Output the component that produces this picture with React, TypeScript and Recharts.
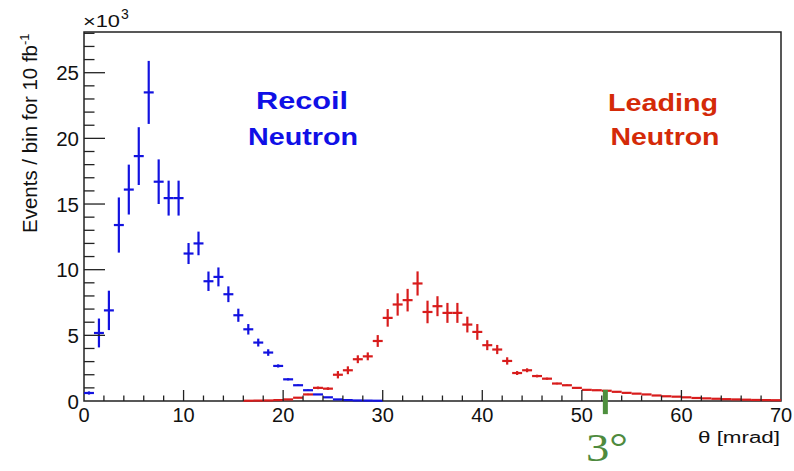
import React from 'react';
import { ComposedChart, Scatter, ErrorBar, XAxis, YAxis, ReferenceArea, ReferenceLine } from 'recharts';

// ---- data (values in units of 10^3 events per 1 mrad bin) ----
const BIN_HALF_WIDTH = 0.5;

const recoilTheta = [0.5, 1.5, 2.5, 3.5, 4.5, 5.5, 6.5, 7.5, 8.5, 9.5, 10.5, 11.5, 12.5, 13.5, 14.5, 15.5, 16.5, 17.5, 18.5, 19.5, 20.5, 21.5, 22.5, 23.5, 24.5, 25.5, 26.5, 27.5, 28.5, 29.5];
const recoilEvents = [0.61, 5.18, 6.9, 13.4, 16.1, 18.65, 23.5, 16.7, 15.45, 15.45, 11.23, 12.0, 9.12, 9.45, 8.13, 6.53, 5.46, 4.45, 3.69, 2.67, 1.65, 1.2, 0.82, 0.5, 0.28, 0.12, 0.07, 0.04, 0.03, 0.02];
const recoilError = [0.12, 1.1, 1.5, 2.1, 1.9, 2.2, 2.4, 1.7, 1.33, 1.33, 0.8, 0.9, 0.74, 0.72, 0.6, 0.5, 0.4, 0.3, 0.25, 0.12, 0.08, 0.06, 0.05, 0.03, 0.02, 0.01, 0.01, 0.01, 0.01, 0.01];

const leadingTheta = [16.5, 17.5, 18.5, 19.5, 20.5, 21.5, 22.5, 23.5, 24.5, 25.5, 26.5, 27.5, 28.5, 29.5, 30.5, 31.5, 32.5, 33.5, 34.5, 35.5, 36.5, 37.5, 38.5, 39.5, 40.5, 41.5, 42.5, 43.5, 44.5, 45.5, 46.5, 47.5, 48.5, 49.5, 50.5, 51.5, 52.5, 53.5, 54.5, 55.5, 56.5, 57.5, 58.5, 59.5, 60.5, 61.5, 62.5, 63.5, 64.5, 65.5, 66.5, 67.5, 68.5, 69.5];
const leadingEvents = [0.02, 0.03, 0.04, 0.07, 0.12, 0.25, 0.5, 1.0, 0.94, 2.0, 2.34, 3.18, 3.4, 4.57, 6.33, 7.35, 7.68, 8.95, 6.78, 7.22, 6.71, 6.71, 5.82, 5.26, 4.25, 3.92, 3.05, 2.13, 2.34, 1.9, 1.7, 1.33, 1.2, 1.0, 0.85, 0.82, 0.78, 0.7, 0.62, 0.56, 0.5, 0.42, 0.36, 0.33, 0.28, 0.23, 0.2, 0.17, 0.14, 0.12, 0.1, 0.08, 0.07, 0.06];
const leadingError = [0.01, 0.01, 0.01, 0.02, 0.02, 0.03, 0.05, 0.1, 0.1, 0.28, 0.3, 0.3, 0.3, 0.45, 0.67, 0.85, 0.86, 0.92, 0.86, 0.76, 0.76, 0.76, 0.6, 0.6, 0.38, 0.35, 0.28, 0.15, 0.15, 0.1, 0.08, 0.06, 0.05, 0.04, 0.03, 0.03, 0.03, 0.03, 0.02, 0.02, 0.02, 0.02, 0.02, 0.01, 0.01, 0.01, 0.01, 0.01, 0.01, 0.01, 0.01, 0.01, 0.01, 0.01];

const xTicks = [0, 2, 4, 6, 8, 10, 12, 14, 16, 18, 20, 22, 24, 26, 28, 30, 32, 34, 36, 38, 40, 42, 44, 46, 48, 50, 52, 54, 56, 58, 60, 62, 64, 66, 68, 70];
const yTicks = [0, 1, 2, 3, 4, 5, 6, 7, 8, 9, 10, 11, 12, 13, 14, 15, 16, 17, 18, 19, 20, 21, 22, 23, 24, 25, 26, 27, 28];
const X_DOMAIN: [number, number] = [0, 70];
const Y_DOMAIN: [number, number] = [0, 28.1];
const THREE_DEGREES_MRAD = 52.36;

const recoilData = recoilTheta.map((x, i) => ({ x, y: recoilEvents[i], ex: BIN_HALF_WIDTH, ey: recoilError[i] }));
const leadingData = leadingTheta.map((x, i) => ({ x, y: leadingEvents[i], ex: BIN_HALF_WIDTH, ey: leadingError[i] }));

const FONT = '"Liberation Sans", Arial, Helvetica, sans-serif';
const BLUE = '#1212e0';
const RED = '#d81c1c';
const AXIS = '#222';

const XTick = (props: any) => {
  const { x, y, payload } = props;
  const v = payload.value;
  const major = v % 10 === 0;
  const len = major ? 11 : 5.5;
  return (
    <g>
      {v !== 0 && v !== 70 ? <line x1={x} y1={y} x2={x} y2={y - len} stroke={AXIS} strokeWidth={1.3} /> : null}
      {major ? (
        <text x={x} y={y + 21} textAnchor="middle" fontSize={20} fontFamily={FONT} fill="#111">{v}</text>
      ) : null}
    </g>
  );
};

const YTick = (props: any) => {
  const { x, y, payload } = props;
  const v = payload.value;
  const major = v % 5 === 0;
  const len = major ? 21 : 10.5;
  return (
    <g>
      {v !== 0 ? <line x1={x} y1={y} x2={x + len} y2={y} stroke={AXIS} strokeWidth={1.3} /> : null}
      {major ? (
        <text x={x - 5} y={y + 7.5} textAnchor="end" fontSize={20.5} fontFamily={FONT} fill="#111">{v}</text>
      ) : null}
    </g>
  );
};

const Empty = () => <g />;

export default function App() {
  return (
    <div style={{ position: 'absolute', left: 0, top: 0, width: 794, height: 471, background: '#fff' }}>
      <ComposedChart width={794} height={471} margin={{ top: 32, right: 13, bottom: 0, left: 0 }}>
        <XAxis
          type="number"
          dataKey="x"
          domain={X_DOMAIN}
          ticks={xTicks}
          allowDataOverflow
          height={70}
          tickSize={0}
          tickMargin={0}
          axisLine={false}
          tickLine={false}
          tick={<XTick />}
          interval={0}
        />
        <YAxis
          type="number"
          dataKey="y"
          domain={Y_DOMAIN}
          ticks={yTicks}
          allowDataOverflow
          width={84}
          tickSize={0}
          tickMargin={0}
          axisLine={false}
          tickLine={false}
          tick={<YTick />}
          interval={0}
        />
        <Scatter data={leadingData} dataKey="y" shape={<Empty />} isAnimationActive={false}>
          <ErrorBar dataKey="ex" direction="x" width={0} stroke={RED} strokeWidth={2.2} isAnimationActive={false} />
          <ErrorBar dataKey="ey" direction="y" width={0} stroke={RED} strokeWidth={2.2} isAnimationActive={false} />
        </Scatter>
        <Scatter data={recoilData} dataKey="y" shape={<Empty />} isAnimationActive={false}>
          <ErrorBar dataKey="ex" direction="x" width={0} stroke={BLUE} strokeWidth={2.2} isAnimationActive={false} />
          <ErrorBar dataKey="ey" direction="y" width={0} stroke={BLUE} strokeWidth={2.2} isAnimationActive={false} />
        </Scatter>
        <ReferenceArea x1={0} x2={70} y1={0} y2={28.1} fill="none" stroke={AXIS} strokeWidth={1.5} ifOverflow="visible" />
        <ReferenceLine
          segment={[{ x: THREE_DEGREES_MRAD, y: -1.0 }, { x: THREE_DEGREES_MRAD, y: 0.85 }]}
          stroke="#4e8f3e"
          strokeWidth={5}
          ifOverflow="visible"
        />
      </ComposedChart>
      <svg width={794} height={471} style={{ position: 'absolute', left: 0, top: 0, pointerEvents: 'none' }}>
        <text x={83} y={27} fontSize={17} fontFamily={FONT} fill="#111" textLength={37} lengthAdjust="spacingAndGlyphs">×10</text>
        <text x={121} y={19} fontSize={14} fontFamily={FONT} fill="#111">3</text>
        <text transform="translate(37,233) rotate(-90)" fontSize={20.5} fontFamily={FONT} fill="#111">
          Events / bin for 10 fb<tspan dy={-8} fontSize={13}>-1</tspan>
        </text>
        <text x={302} y={109} textAnchor="middle" fontSize={23} fontWeight="bold" fontFamily={FONT} fill="#1010e6" textLength={92} lengthAdjust="spacingAndGlyphs">Recoil</text>
        <text x={303} y={145} textAnchor="middle" fontSize={23} fontWeight="bold" fontFamily={FONT} fill="#1010e6" textLength={110} lengthAdjust="spacingAndGlyphs">Neutron</text>
        <text x={663} y={110.5} textAnchor="middle" fontSize={23} fontWeight="bold" fontFamily={FONT} fill="#d42a08" textLength={110} lengthAdjust="spacingAndGlyphs">Leading</text>
        <text x={665} y={145} textAnchor="middle" fontSize={23} fontWeight="bold" fontFamily={FONT} fill="#d42a08" textLength={109} lengthAdjust="spacingAndGlyphs">Neutron</text>
        <text x={780} y={443} textAnchor="end" fontSize={16} fontFamily={FONT} fill="#111" textLength={82} lengthAdjust="spacingAndGlyphs">θ [mrad]</text>
        <text x={586} y={461} fontSize={40} fontFamily={'"Liberation Serif", "Times New Roman", serif'} fill="#4e8a3e" textLength={42} lengthAdjust="spacingAndGlyphs">3°</text>
      </svg>
    </div>
  );
}
